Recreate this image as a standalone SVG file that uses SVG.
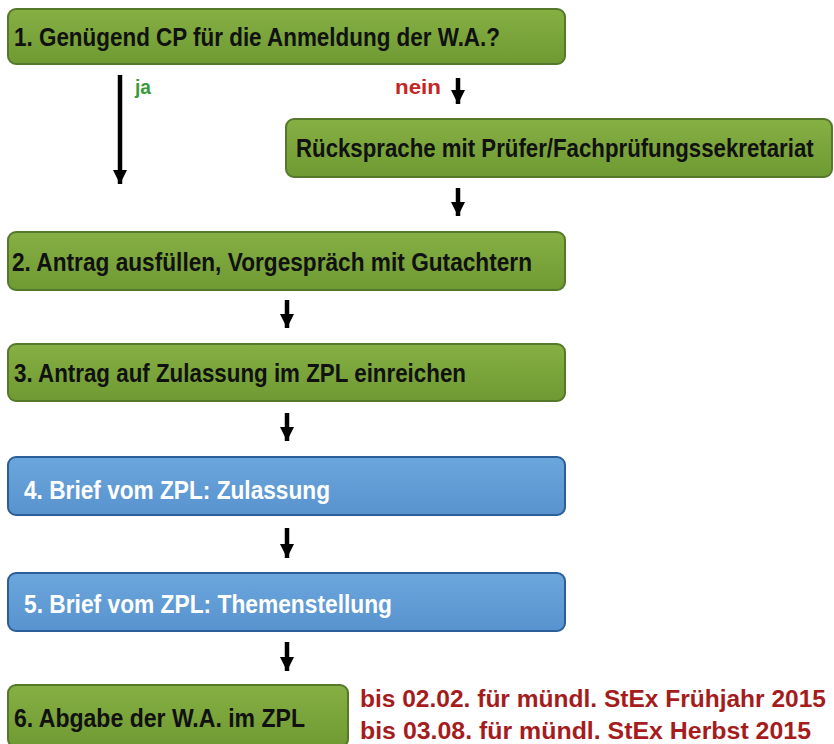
<svg xmlns="http://www.w3.org/2000/svg" width="834" height="744" viewBox="0 0 834 744">
<defs>
<linearGradient id="gg" x1="0" y1="0" x2="0" y2="1"><stop offset="0" stop-color="#86b043"/><stop offset="1" stop-color="#6f9a33"/></linearGradient>
<linearGradient id="bg" x1="0" y1="0" x2="0" y2="1"><stop offset="0" stop-color="#6ba6dc"/><stop offset="1" stop-color="#5893cf"/></linearGradient>
<marker id="ah" viewBox="0 0 10 10" refX="10" refY="5" markerWidth="3.2" markerHeight="3.5" orient="auto" markerUnits="strokeWidth"><path d="M0,0 L10,5 L0,10 z" fill="#000"/></marker>
</defs>
<style>
.g{fill:url(#gg);stroke:#55782a;stroke-width:2}
.b{fill:url(#bg);stroke:#2c5f99;stroke-width:2}
.t{font-family:"Liberation Sans",Arial,sans-serif;font-weight:bold;font-size:26px;fill:#111}
.w{fill:#fff}
.r{fill:#a51c1c;font-size:23px}
.c line{stroke:#000;stroke-width:4.5}
</style>
<rect width="834" height="744" fill="#fff"/>
<g id="n1"><rect class="g" x="8" y="9" width="557" height="55" rx="8"/><text class="t" x="14" y="46" textLength="486" lengthAdjust="spacingAndGlyphs">1. Genügend CP für die Anmeldung der W.A.?</text></g>
<g id="nR"><rect class="g" x="286" y="119" width="546" height="58" rx="8"/><text class="t" transform="translate(296,157) scale(0.86,1)" x="0" y="0" textLength="602" lengthAdjust="spacingAndGlyphs">Rücksprache mit Prüfer/Fachprüfungssekretariat</text></g>
<g id="n2"><rect class="g" x="8" y="232" width="557" height="58" rx="8"/><text class="t" x="12" y="271" textLength="520" lengthAdjust="spacingAndGlyphs">2. Antrag ausfüllen, Vorgespräch mit Gutachtern</text></g>
<g id="n3"><rect class="g" x="8" y="344" width="557" height="57" rx="8"/><text class="t" x="14" y="382" textLength="452" lengthAdjust="spacingAndGlyphs">3. Antrag auf Zulassung im ZPL einreichen</text></g>
<g id="n4"><rect class="b" x="8" y="457" width="557" height="58" rx="8"/><text class="t w" x="24" y="499" textLength="306" lengthAdjust="spacingAndGlyphs">4. Brief vom ZPL: Zulassung</text></g>
<g id="n5"><rect class="b" x="8" y="573" width="557" height="58" rx="8"/><text class="t w" x="24" y="613" textLength="368" lengthAdjust="spacingAndGlyphs">5. Brief vom ZPL: Themenstellung</text></g>
<g id="n6"><rect class="g" x="8" y="685" width="340" height="62" rx="8"/><text class="t" x="14" y="727" textLength="291" lengthAdjust="spacingAndGlyphs">6. Abgabe der W.A. im ZPL</text></g>
<g id="notes"><text class="t r" x="360" y="707" textLength="466" lengthAdjust="spacingAndGlyphs">bis 02.02. für mündl. StEx Frühjahr 2015</text><text class="t r" x="360" y="739" textLength="451" lengthAdjust="spacingAndGlyphs">bis 03.08. für mündl. StEx Herbst 2015</text></g>
<g id="connectors" class="c">
<line x1="120" y1="75" x2="120" y2="184" marker-end="url(#ah)"/>
<line x1="458" y1="78" x2="458" y2="104" marker-end="url(#ah)"/>
<line x1="458" y1="188" x2="458" y2="216" marker-end="url(#ah)"/>
<line x1="287" y1="300" x2="287" y2="328" marker-end="url(#ah)"/>
<line x1="287" y1="413" x2="287" y2="441" marker-end="url(#ah)"/>
<line x1="287" y1="528" x2="287" y2="558" marker-end="url(#ah)"/>
<line x1="287" y1="642" x2="287" y2="671" marker-end="url(#ah)"/>
<text class="t" x="135" y="94" style="fill:#3a9a3a;font-size:20px" textLength="16" lengthAdjust="spacingAndGlyphs">ja</text>
<text class="t" x="395" y="94" style="fill:#c42626;font-size:20px" textLength="46" lengthAdjust="spacingAndGlyphs">nein</text>
</g>
</svg>
